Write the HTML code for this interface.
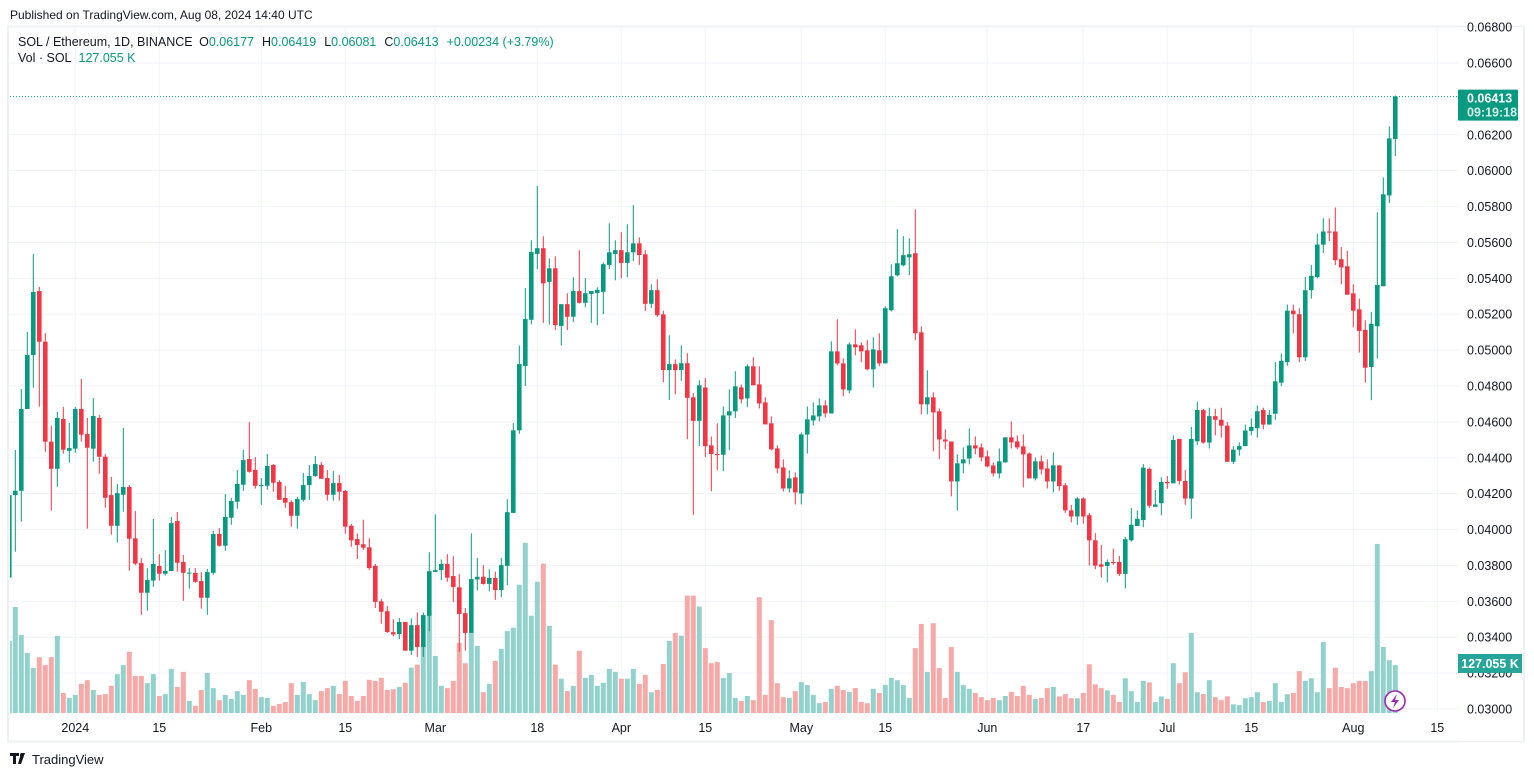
<!DOCTYPE html>
<html><head><meta charset="utf-8"><title>SOL / Ethereum 1D</title>
<style>
html,body{margin:0;padding:0;background:#fff;}
body{width:1534px;height:777px;overflow:hidden;font-family:"Liberation Sans",sans-serif;}
svg text{font-family:"Liberation Sans",sans-serif;}
</style></head>
<body>
<svg id="chart" width="1534" height="777" viewBox="0 0 1534 777" xmlns="http://www.w3.org/2000/svg">
  <text x="10" y="19" font-size="12" fill="#131722">Published on TradingView.com, Aug 08, 2024 14:40 UTC</text>
  <rect x="8" y="26.5" width="1516" height="715" fill="none" stroke="#eef0f4" stroke-width="2"/>
  <g id="grid"></g>
  <defs><clipPath id="plotclip"><rect x="10" y="27" width="1448" height="687"/></clipPath></defs>
  <g id="vols" clip-path="url(#plotclip)"></g>
  <g id="candles" clip-path="url(#plotclip)"></g>
  <g id="yaxis"></g>
  <g id="xaxis"></g>
  <g>
    <text x="18" y="46" font-size="12.5" fill="#131722">SOL / Ethereum, 1D, BINANCE <tspan dx="3">O</tspan><tspan fill="#089981">0.06177</tspan><tspan dx="8">H</tspan><tspan fill="#089981">0.06419</tspan><tspan dx="8">L</tspan><tspan fill="#089981">0.06081</tspan><tspan dx="8">C</tspan><tspan fill="#089981">0.06413</tspan><tspan dx="8" fill="#089981">+0.00234 (+3.79%)</tspan></text>
    <text x="18" y="62" font-size="12.5" fill="#131722">Vol · SOL <tspan dx="4" fill="#089981">127.055 K</tspan></text>
  </g>
  <g id="lastprice"></g>
  <g>
    <rect x="1458" y="654" width="64" height="19" fill="#26a69a"/>
    <text x="1490" y="668" font-size="12.5" font-weight="bold" fill="#fff" text-anchor="middle">127.055 K</text>
  </g>
  <g>
    <circle cx="1395" cy="701" r="10" fill="#fff" stroke="#9c27b0" stroke-width="1.6"/>
    <path d="M1397 694 L1391 702 L1395 702 L1393 708 L1399 700 L1395 700 Z" fill="#9c27b0"/>
  </g>
  <g>
    <path d="M10 753 h9 v3 h-3 v8 h-3 v-8 h-3 z M21 753 h4 l-4 11 h-3 z" fill="#131722"/>
    <circle cx="21.5" cy="755" r="1.6" fill="#131722"/>
    <text x="32" y="764" font-size="13" fill="#131722">TradingView</text>
  </g>
</svg>
<script>
// prices in units of 0.00001 ETH (first entry = partial Dec 21 candle)
const opens=[3732,4192,4216,4672,4973,5329,5047,4490,4339,4616,4439,4451,4672,4532,4451,4622,4406,4192,4021,4194,4237,3951,3813,3648,3716,3797,3754,3769,4047,3819,3758,3758,3713,3620,3759,3975,3910,4066,4155,4250,4393,4332,4244,4244,4360,4265,4176,4153,4077,4166,4248,4298,4360,4287,4194,4259,4215,4021,3947,3918,3901,3798,3600,3545,3428,3418,3485,3325,3467,3346,3519,3764,3774,3808,3741,3678,3534,3424,3722,3737,3697,3730,3663,3798,4093,4553,4912,5169,5536,5568,5380,5456,5135,5256,5186,5329,5264,5313,5319,5325,5475,5536,5557,5486,5545,5595,5534,5258,5334,5199,4889,4922,4889,4927,4737,4606,4792,4469,4421,4417,4636,4659,4792,4731,4910,4809,4709,4592,4452,4346,4229,4291,4201,4530,4608,4631,4692,4647,4993,4926,4776,5032,5027,4999,4893,4999,4926,5222,5417,5473,5517,5540,5099,4698,4737,4659,4502,4491,4268,4369,4396,4469,4458,4408,4357,4313,4374,4514,4491,4463,4424,4285,4380,4341,4268,4358,4247,4107,4073,4173,4080,3940,3806,3797,3819,3819,3753,3940,4020,4053,4338,4127,4147,4265,4258,4505,4271,4173,4492,4666,4485,4632,4612,4579,4378,4445,4465,4550,4565,4666,4585,4646,4819,4933,5220,5200,4960,5334,5407,5588,5661,5661,5507,5467,5316,5227,5113,4906,5133,5356,5862,6177];
const highs=[4192,4443,4783,5101,5536,5352,5095,4577,4655,4683,4594,4683,4839,4622,4733,4639,4421,4293,4254,4566,4248,4103,3841,3785,4059,3863,3886,4070,4098,3858,3785,3785,3763,3780,3992,4008,4198,4176,4332,4443,4599,4404,4287,4421,4365,4276,4243,4164,4181,4315,4360,4410,4376,4332,4326,4304,4220,4032,3979,4055,3952,3808,3612,3574,3500,3506,3485,3505,3538,3538,3874,4085,3833,3863,3851,3751,3562,3979,3842,3802,3779,3766,3842,4169,4593,5026,5346,5612,5914,5635,5511,5523,5256,5317,5406,5557,5401,5329,5350,5489,5707,5612,5657,5701,5808,5628,5557,5367,5395,5220,5083,4948,5026,4983,4760,4832,4844,4519,4592,4686,4781,4882,4809,4921,4960,4910,4737,4631,4469,4391,4330,4318,4541,4686,4709,4731,4720,5049,5172,4954,5043,5116,5043,5055,5071,5094,5244,5478,5674,5635,5623,5785,5133,4887,4765,4675,4558,4491,4419,4458,4564,4519,4480,4441,4374,4452,4514,4603,4525,4530,4430,4402,4413,4391,4430,4358,4260,4138,4180,4180,4093,3980,3913,3833,3893,3853,3960,4120,4107,4365,4345,4220,4292,4298,4525,4505,4332,4572,4712,4672,4679,4672,4679,4599,4465,4485,4585,4619,4692,4679,4666,4933,4980,5254,5254,5234,5407,5474,5648,5735,5735,5795,5574,5554,5367,5287,5167,5213,5768,5962,6247,6419];
const lows=[3732,3876,4044,4672,4791,4685,4434,4105,4239,4423,4373,4428,4490,4005,4378,4311,4122,3971,3927,4099,3771,3802,3525,3548,3681,3716,3743,3769,3765,3603,3670,3704,3559,3525,3748,3904,3882,4027,4116,4216,4317,4228,4138,4222,4211,4166,4122,4016,4005,4155,4166,4294,4283,4161,4161,4161,3977,3904,3836,3886,3775,3563,3475,3424,3405,3390,3325,3302,3291,3291,3433,3764,3718,3709,3595,3319,3325,3424,3661,3693,3656,3608,3623,3690,4091,4534,4800,5144,5452,5152,5142,5112,5026,5112,5157,5259,5239,5152,5138,5201,5452,5389,5401,5406,5496,5475,5218,5235,5186,4821,4722,4754,4829,4504,4082,4465,4405,4214,4331,4326,4443,4621,4703,4681,4804,4675,4586,4441,4313,4212,4207,4140,4140,4424,4580,4603,4625,4647,4915,4742,4759,4971,4932,4887,4792,4910,4926,5216,5411,5467,5417,5055,4642,4642,4436,4391,4447,4185,4106,4313,4363,4419,4380,4346,4296,4285,4374,4452,4447,4235,4285,4274,4307,4229,4207,4216,4093,4040,4026,4033,3799,3779,3733,3706,3804,3741,3672,3933,4020,4013,4120,4127,4080,4227,4258,4251,4138,4060,4472,4478,4452,4525,4512,4378,4365,4412,4465,4525,4512,4559,4585,4612,4799,4913,5093,4933,4940,5287,5400,5541,5608,5474,5367,5309,5127,4986,4819,4721,4953,5356,5819,6081];
const closes=[4192,4216,4672,4973,5324,5047,4490,4339,4622,4445,4454,4672,4529,4456,4633,4406,4177,4021,4203,4237,3949,3810,3648,3719,3808,3754,3769,4036,3815,3759,3760,3709,3620,3763,3975,3910,4070,4159,4254,4387,4322,4244,4248,4354,4261,4166,4150,4077,4170,4248,4298,4365,4283,4194,4259,4211,4016,3940,3914,3899,3785,3597,3542,3429,3416,3485,3325,3467,3346,3523,3768,3774,3808,3732,3680,3530,3424,3724,3737,3697,3730,3663,3802,4097,4553,4922,5173,5547,5568,5372,5456,5140,5256,5186,5329,5264,5317,5329,5336,5479,5545,5557,5486,5545,5595,5530,5258,5334,5195,4889,4922,4889,4927,4734,4606,4804,4465,4421,4417,4636,4659,4798,4726,4910,4804,4703,4586,4447,4341,4229,4285,4207,4530,4614,4636,4692,4647,4993,4926,4781,5032,5016,4993,4893,5004,4926,5233,5411,5484,5529,5534,5094,4698,4737,4653,4502,4491,4268,4369,4391,4469,4452,4402,4352,4313,4380,4514,4486,4458,4419,4285,4380,4335,4268,4358,4242,4107,4073,4173,4073,3940,3799,3793,3819,3813,3753,3946,4027,4060,4345,4133,4140,4265,4258,4499,4271,4173,4505,4666,4485,4632,4612,4579,4378,4445,4465,4552,4572,4659,4585,4639,4826,4940,5220,5200,4960,5334,5414,5588,5661,5655,5501,5461,5309,5220,5107,4902,5147,5363,5868,6180,6413];
// volume in thousands of SOL
const volumes=[191,281,207,159,119,148,127,148,204,53,40,48,77,87,61,48,50,72,103,127,162,98,98,79,103,45,50,117,69,109,32,19,61,106,66,34,48,37,58,48,87,64,42,40,19,24,29,79,48,82,50,34,58,66,72,50,85,45,32,45,88,85,93,61,63,69,80,120,128,180,258,151,72,66,85,186,132,212,178,55,77,138,170,217,226,340,451,258,348,396,231,128,91,58,72,165,93,101,72,80,117,109,91,91,117,77,101,55,61,130,191,212,205,311,311,282,172,132,135,93,106,40,32,45,34,307,48,246,79,42,40,58,82,74,48,26,29,64,72,61,56,66,29,26,64,53,74,93,87,74,40,172,236,109,238,119,40,175,109,74,64,53,42,34,40,34,45,56,45,72,48,37,40,66,69,44,50,39,39,53,129,76,66,60,48,29,92,58,29,85,81,29,44,37,132,79,108,212,55,50,87,42,34,44,23,21,39,42,55,29,32,79,29,50,53,111,85,92,55,188,66,120,69,66,79,85,85,111,448,175,140,127];
const priceTicks=[0.030,0.032,0.034,0.036,0.038,0.040,0.042,0.044,0.046,0.048,0.050,0.052,0.054,0.056,0.058,0.060,0.062,0.064,0.066,0.068];
const dateTickIndex=[11,25,42,56,71,88,102,116,132,146,163,179,193,207,224,238];
const dateTickLabels=["2024","15","Feb","15","Mar","18","Apr","15","May","15","Jun","17","Jul","15","Aug","15"];

const SCALE=1e-5, NS='http://www.w3.org/2000/svg';
const xOf=i=>9.3+6*i;
const yOf=p=>709-(p-0.030)*17944;
const vH=v=>v/2.65;
const UP='#089981', DN='#f23645';
function mk(tag,attrs,parent){const e=document.createElementNS(NS,tag);for(const k in attrs)e.setAttribute(k,attrs[k]);parent.appendChild(e);return e;}
const grid=document.getElementById('grid'), yax=document.getElementById('yaxis'), xax=document.getElementById('xaxis');
priceTicks.forEach(p=>{
  const y=yOf(p);
  const ln=mk('line',{x1:9,x2:1458,y1:y,y2:y,stroke:'#f0f3fa','stroke-width':1},grid);
  
  
  const t=mk('text',{x:1467,y:y+4.5,'font-size':12.5,fill:'#131722'},yax);
  t.textContent=p.toFixed(5);
  
  
});
dateTickIndex.forEach((ix,k)=>{
  const x=xOf(ix);
  const ln=mk('line',{x1:x,x2:x,y1:27,y2:713,stroke:'#f0f3fa','stroke-width':1},grid);
  
  
  const t=mk('text',{x:x,y:732,'font-size':12.5,fill:'#131722','text-anchor':'middle'},xax);
  t.textContent=dateTickLabels[k];
  
  
});
// mask area behind price axis
const ax=mk('rect',{x:1458,y:27,width:65,height:714,fill:'#fff'},grid);


const vg=document.getElementById('vols'), cg=document.getElementById('candles');
closes.forEach((c,i)=>{
  const o=opens[i], x=xOf(i), up=c>=o;
  const h=vH(volumes[i]);
  const vb=mk('rect',{x:x-2.5,y:713-h,width:5,height:h,fill:up?'#93d2cc':'#f7a9a7'},vg);
  
  
  const col=up?UP:DN;
  const w=mk('line',{x1:x,x2:x,y1:yOf(highs[i]*SCALE),y2:yOf(lows[i]*SCALE),stroke:col,'stroke-width':1},cg);
  
  
  const yt=yOf(Math.max(o,c)*SCALE), yb=yOf(Math.min(o,c)*SCALE);
  const b=mk('rect',{x:x-2.3,y:yt,width:4.6,height:Math.max(1,yb-yt),fill:col},cg);
  
  
});
const last=closes[closes.length-1]*SCALE, ly=yOf(last);
const lp=document.getElementById('lastprice');
const dl=mk('line',{x1:10,x2:1458,y1:ly,y2:ly,stroke:UP,'stroke-width':1,'stroke-dasharray':'1 2'},lp);


const bx=mk('rect',{x:1458,y:ly-7,width:60,height:31,fill:UP,rx:1},lp);


const t1=mk('text',{x:1467,y:ly+6,'font-size':12.5,'font-weight':'bold',fill:'#fff'},lp);
t1.textContent=last.toFixed(5);


const t2=mk('text',{x:1467,y:ly+20,'font-size':12.5,'font-weight':'bold',fill:'#d5f0ea'},lp);
t2.textContent='09:19:18';


</script>
</body></html>
